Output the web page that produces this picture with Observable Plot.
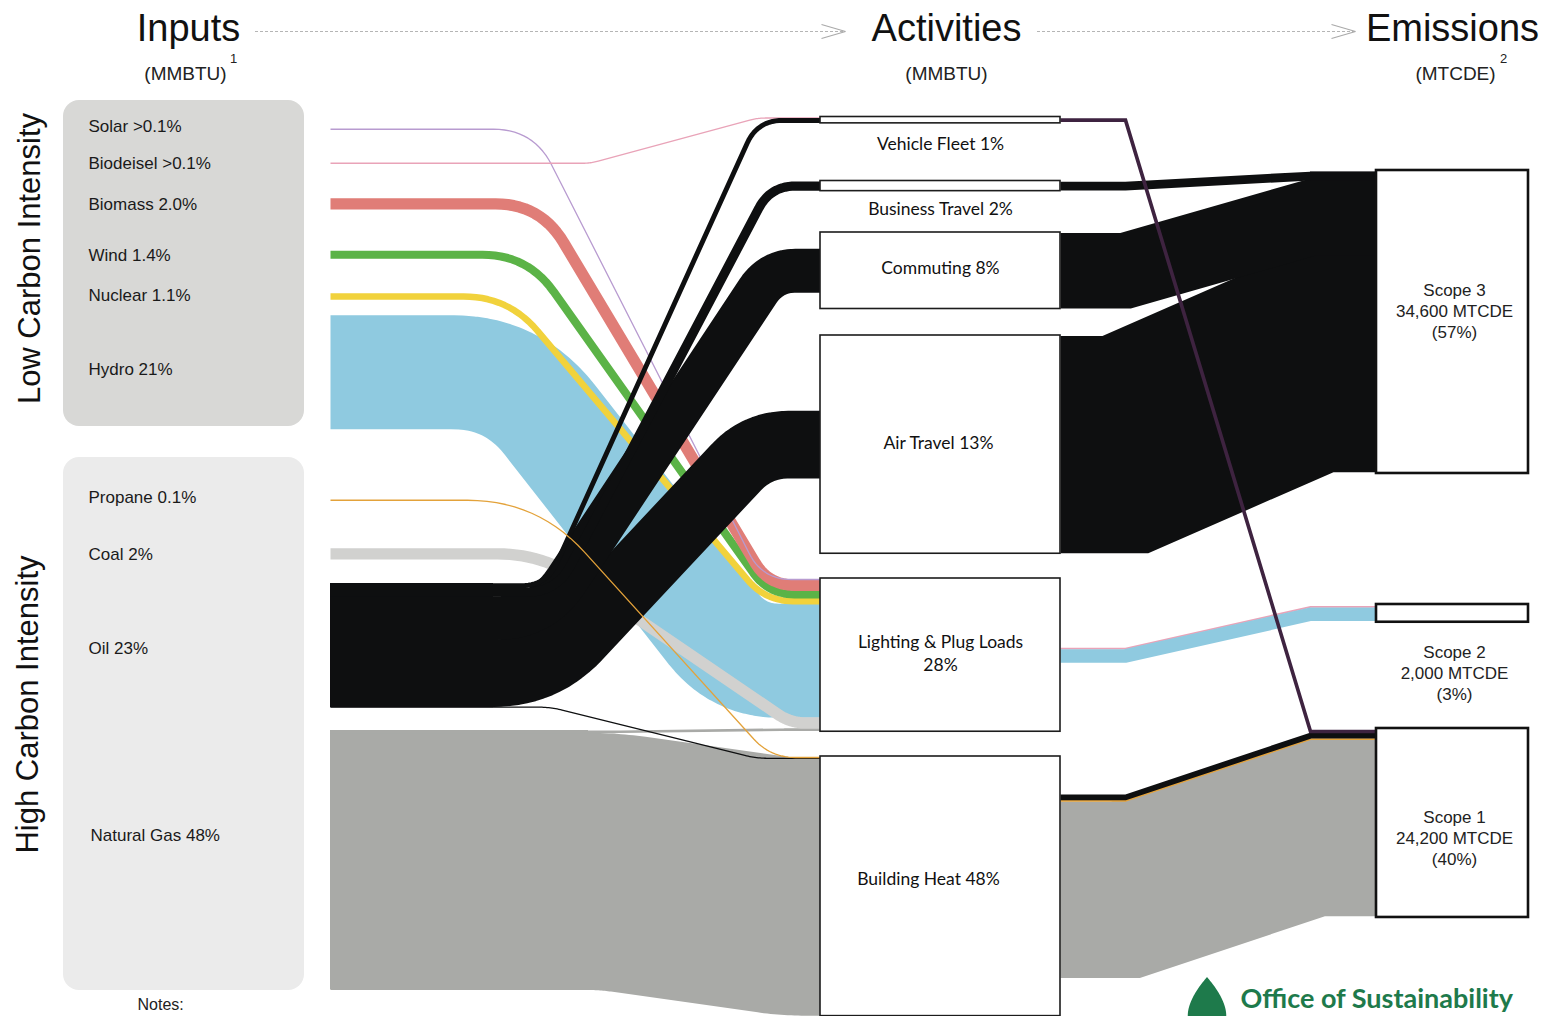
<!DOCTYPE html>
<html>
<head>
<meta charset="utf-8">
<script src="https://cdn.jsdelivr.net/npm/d3@7"></script>
<script src="https://cdn.jsdelivr.net/npm/@observablehq/plot@0.6"></script>
<style>
  html, body { margin: 0; padding: 0; background: #fff; }
  #chart svg { display: block; }
</style>
</head>
<body>
<div id="chart"></div>
<script>
// ================= DATA =================
const inputs = ["Solar", "Biodeisel", "Biomass", "Wind", "Nuclear", "Hydro", "Propane", "Coal", "Oil", "Natural Gas"];
const inputShare = [">0.1%", ">0.1%", "2.0%", "1.4%", "1.1%", "21%", "0.1%", "2%", "23%", "48%"];
const groups = ["Low Carbon Intensity", "High Carbon Intensity"];

const activities = ["Vehicle Fleet", "Business Travel", "Commuting", "Air Travel", "Lighting & Plug Loads", "Building Heat"];
const activityShare = ["1%", "2%", "8%", "13%", "28%", "48%"];

const scopes = ["Scope 3", "Scope 2", "Scope 1"];
const scopeMTCDE = [34600, 2000, 24200];
const scopePct = [57, 3, 40];

// energy flows, share of total MMBTU (%)
const energyFrom  = ["Solar", "Biodeisel", "Biomass", "Wind", "Nuclear", "Hydro", "Propane", "Coal", "Oil", "Oil", "Oil", "Oil", "Oil", "Natural Gas", "Natural Gas"];
const energyTo    = ["Lighting & Plug Loads", "Vehicle Fleet", "Lighting & Plug Loads", "Lighting & Plug Loads", "Lighting & Plug Loads", "Lighting & Plug Loads", "Building Heat", "Lighting & Plug Loads",
                     "Vehicle Fleet", "Business Travel", "Commuting", "Air Travel", "Building Heat", "Lighting & Plug Loads", "Building Heat"];
const energyShare = [0.1, 0.1, 2.0, 1.4, 1.1, 21, 0.1, 2.0, 0.8, 1.6, 8.0, 12.4, 0.2, 0.5, 47.5];

// emission flows, thousand MTCDE
const emisFrom = ["Vehicle Fleet", "Business Travel", "Commuting", "Air Travel", "Lighting & Plug Loads", "Lighting & Plug Loads", "Building Heat", "Building Heat", "Building Heat"];
const emisTo   = ["Scope 1", "Scope 3", "Scope 3", "Scope 3", "Scope 2", "Scope 2", "Scope 1", "Scope 1", "Scope 1"];
const emisFuel = ["Oil & Biodeisel", "Oil", "Oil", "Oil", "Biodeisel", "Hydro", "Oil", "Propane", "Natural Gas"];
const emisKt   = [0.35, 0.95, 8.65, 25.0, 0.2, 1.5, 0.6, 0.2, 20.3];

// ================= LAYOUT & STYLE =================
const W = 1544, H = 1016;
const PX_PCT = 5.4;   // px per % of MMBTU
const PX_KT = 8.67;   // px per thousand MTCDE
const X_IN = 330, X_A0 = 820, X_A1 = 1060, X_MB0 = 1125, X_MB1 = 1310, X_S0 = 1376, X_S1 = 1528;

const inputTop    = [128.5, 162.5, 198, 250.5, 293, 315, 499.5, 548, 583, 730];
const inputLabelY = [126, 163, 204, 255, 295, 369, 497, 554, 648, 835];
const groupPanel  = [[100, 426], [457, 990]];
const groupLabel  = [[30, 258], [28, 704]];
const activityTop = [116.5, 180.5, 232, 335, 578, 756];
const actLabelShift = [[0, 0], [0, -2], [0, -1], [-2, 0], [0, 0], [-12, -6]];
const scopeTop    = [170, 604, 728];
const scopeLabelY = [310, 672, 837];
// [x where link leaves source level, x where it reaches target level, corner radius]
const energyBend = [[533, 762, 40], [590, 757, 8], [540, 768, 45], [527, 768, 45], [508, 765, 45], [512, 738, 60], [537, 770, 70], [542, 790, 45],
                    [546, 757, 25], [556, 770, 30], [541, 771, 45], [543, 757, 50], [550, 756, 12], [610, 790, 10], [608, 790, 20]];
const energyDrawOrder = [14, 13, 5, 7, 4, 3, 2, 0, 1, 11, 10, 9, 8, 12, 6];
const emisDrawOrder = [8, 7, 6, 3, 2, 1, 4, 5, 0];

const color = {
  "Solar": "#b89bd0", "Biodeisel": "#e9a3b8", "Biomass": "#e07d77", "Wind": "#5bb347", "Nuclear": "#f1d23c",
  "Hydro": "#8fcae0", "Propane": "#e3a23a", "Coal": "#d1d1cf", "Oil": "#0e0f10", "Natural Gas": "#a9aaa7",
  "Oil & Biodeisel": "#3e2340"
};
const panelFill = ["#d8d8d6", "#ebebeb"];

// ================= COMPUTE SANKEY GEOMETRY =================
const E = energyFrom.map((f, i) => ({i, from: f, to: energyTo[i], w: energyShare[i] * PX_PCT}));
const M = emisFrom.map((f, i) => ({i, from: f, to: emisTo[i], fuel: emisFuel[i], w: emisKt[i] * PX_KT}));

const srcOff = new Map(inputs.map((n, k) => [n, inputTop[k]]));
E.forEach(l => { const y0 = srcOff.get(l.from); l.cs = y0 + l.w / 2; srcOff.set(l.from, y0 + l.w); });

// solid trunks behind inputs that split into several links (hides seams)
const trunks = inputs.map((n, k) => {
  const ls = E.filter(l => l.from === n);
  if (ls.length < 2) return null;
  return {fill: color[n], y1: inputTop[k], y2: inputTop[k] + d3.sum(ls, l => l.w),
          x2: d3.min(ls, l => energyBend[l.i][0] - energyBend[l.i][2])};
}).filter(d => d);

const act = activities.map((a, k) => {
  const ins = E.filter(l => l.to === a), outs = M.filter(l => l.from === a);
  const inW = d3.sum(ins, l => l.w), outW = d3.sum(outs, l => l.w);
  const h = Math.max(inW, outW) + 1.5;
  const y1 = activityTop[k], y2 = y1 + h;
  let y = y1 + (h - inW) / 2;
  ins.forEach(l => { l.ct = y + l.w / 2; y += l.w; });
  y = y1 + (h - outW) / 2;
  outs.forEach(l => { l.c0 = y + l.w / 2; y += l.w; });
  return {name: a, share: activityShare[k], y1, y2, h, k};
});

const scTrunks = [];
const sc = scopes.map((s, k) => {
  const ins = M.filter(l => l.to === s);
  let y = scopeTop[k] + 1.5;
  const y0 = y;
  ins.forEach(l => { l.c1 = y + l.w / 2; y += l.w; });
  if (ins.length > 1 && new Set(ins.map(l => l.fuel)).size === 1) scTrunks.push({y1: y0, y2: y, fill: color[ins[0].fuel]});
  return {name: s, y1: scopeTop[k], y2: y + 1.5, label: `${s}\n${d3.format(",")(scopeMTCDE[k])} MTCDE\n(${scopePct[k]}%)`, ly: scopeLabelY[k]};
});

function rounded(pts, r, n = 14) {
  const out = [pts[0]];
  for (let i = 1; i < pts.length - 1; i++) {
    const p0 = pts[i - 1], p1 = pts[i], p2 = pts[i + 1];
    const l1 = Math.hypot(p1[0] - p0[0], p1[1] - p0[1]), l2 = Math.hypot(p2[0] - p1[0], p2[1] - p1[1]);
    if (l1 < 1e-6 || l2 < 1e-6 || r <= 0) { out.push(p1); continue; }
    const d = Math.min(r, l1 / 2, l2 / 2);
    const a = [p1[0] - (p1[0] - p0[0]) / l1 * d, p1[1] - (p1[1] - p0[1]) / l1 * d];
    const b = [p1[0] + (p2[0] - p1[0]) / l2 * d, p1[1] + (p2[1] - p1[1]) / l2 * d];
    for (let k = 0; k <= n; k++) {
      const t = k / n, u = 1 - t;
      out.push([u * u * a[0] + 2 * u * t * p1[0] + t * t * b[0], u * u * a[1] + 2 * u * t * p1[1] + t * t * b[1]]);
    }
  }
  out.push(pts[pts.length - 1]);
  return out.map(([x, y]) => ({x, y}));
}
const drawWidth = (w, min) => w > 3 ? w + 0.6 : Math.max(w, min);

const energyMarks = energyDrawOrder.map(i => {
  const l = E[i], [xb, xe, r] = energyBend[i];
  const pts = rounded([[X_IN, l.cs], [xb, l.cs], [xe, l.ct], [X_A0, l.ct]], r);
  return Plot.line(pts, {x: "x", y: "y", curve: "linear", stroke: color[l.from], strokeWidth: drawWidth(l.w, 1.3),
    strokeLinecap: "butt", strokeLinejoin: "round"});
});

const emisMarks = emisDrawOrder.map(i => {
  const l = M[i];
  const pts = [[X_A1, l.c0], [X_MB0, l.c0], [X_MB1, l.c1], [X_S0, l.c1]].map(([x, y]) => ({x, y}));
  return Plot.line(pts, {x: "x", y: "y", curve: "linear", stroke: color[l.fuel], strokeWidth: drawWidth(l.w, 1.5),
    strokeLinecap: "butt", strokeLinejoin: "miter", strokeMiterlimit: 20});
});

// header arrows
const headers = [
  {name: "Inputs", unit: "(MMBTU)", sup: "1", x: 188, ux: 185},
  {name: "Activities", unit: "(MMBTU)", sup: "", x: 946, ux: 946},
  {name: "Emissions", unit: "(MTCDE)", sup: "2", x: 1452, ux: 1455}
];
const arrows = [{x1: 255, x2: 845, y: 31}, {x1: 1037, x2: 1355, y: 31}];
const chevrons = arrows.flatMap((a, k) => [{k, x: a.x2 - 24, y: a.y - 7}, {k, x: a.x2, y: a.y}, {k, x: a.x2 - 24, y: a.y + 7}]);

// logo drop
const logo = {cx: 1207, top: 977, h: 58, w: 25};
const drop = d3.range(0, 61).map(i => {
  const t = i / 60 * Math.PI;
  const half = logo.w * Math.sin(t) * Math.sin(t / 2);
  return {y: logo.top + logo.h * (1 - Math.cos(t)) / 2, x1: logo.cx - half, x2: logo.cx + half};
});

const panels = groups.map((g, k) => ({g, y1: groupPanel[k][0], y2: groupPanel[k][1], fill: panelFill[k], lx: groupLabel[k][0], ly: groupLabel[k][1]}));
const inputLabels = inputs.map((n, k) => ({text: `${n} ${inputShare[k]}`, y: inputLabelY[k], x: n === "Natural Gas" ? 90 : 88}));
const actLabels = act.map(a => ({
  text: a.name === "Lighting & Plug Loads" ? `Lighting & Plug Loads\n${a.share}` : `${a.name} ${a.share}`,
  x: (X_A0 + X_A1) / 2 + actLabelShift[a.k][0],
  y: (a.h < 20 ? a.y2 + 19 : (a.y1 + a.y2) / 2 - 3) + actLabelShift[a.k][1]
}));

const chart = Plot.plot({
  width: W, height: H, margin: 0,
  x: {domain: [0, W], range: [0, W], axis: null},
  y: {domain: [0, H], range: [0, H], axis: null},
  style: {fontFamily: "'Liberation Sans', Arial, sans-serif", background: "#fff", color: "#111"},
  marks: [
    // group panels
    Plot.rect(panels, {x1: 63, x2: 304, y1: "y1", y2: "y2", rx: 16, fill: "fill"}),
    Plot.text(panels, {x: "lx", y: "ly", text: "g", rotate: -90, fontSize: 31, fill: "#111", lineAnchor: "middle", textAnchor: "middle"}),
    Plot.text(inputLabels, {x: "x", y: "y", text: "text", fontSize: 17, fill: "#1a1a1a", textAnchor: "start", lineAnchor: "middle"}),
    // flows
    Plot.rect(trunks, {x1: X_IN, x2: "x2", y1: "y1", y2: "y2", fill: "fill"}),
    Plot.rect(scTrunks, {x1: X_MB1, x2: X_S0, y1: "y1", y2: "y2", fill: "fill"}),
    ...energyMarks,
    ...emisMarks,
    // activity boxes
    Plot.rect(act, {x1: X_A0, x2: X_A1, y1: "y1", y2: "y2", fill: "#fff", stroke: "#1c1c1c", strokeWidth: 1.6}),
    Plot.text(actLabels, {x: "x", y: "y", text: "text", fontFamily: "Lato, sans-serif", fontSize: 17.5, fill: "#111", lineAnchor: "middle", lineHeight: 1.3}),
    // scope boxes
    Plot.rect(sc, {x1: X_S0, x2: X_S1, y1: "y1", y2: "y2", fill: "#fff", stroke: "#111", strokeWidth: 2.6}),
    Plot.text(sc, {x: (X_S0 + X_S1) / 2 + 2, y: "ly", text: "label", fontSize: 17, fill: "#222", lineAnchor: "middle", lineHeight: 1.22}),
    // headers
    Plot.ruleY(arrows, {y: "y", x1: "x1", x2: "x2", stroke: "#b5b5b5", strokeWidth: 1, strokeDasharray: "3,2"}),
    Plot.line(chevrons, {x: "x", y: "y", z: "k", stroke: "#aaa", strokeWidth: 1.3, strokeLinejoin: "miter", strokeLinecap: "butt"}),
    Plot.text(headers, {x: "x", y: 28, text: "name", fontSize: 38, fill: "#111", lineAnchor: "middle"}),
    Plot.text(headers, {x: "ux", y: 73, text: "unit", fontSize: 19, fill: "#222", lineAnchor: "middle"}),
    Plot.text(headers, {x: d => d.ux + 48, y: 58, text: "sup", fontSize: 13, fill: "#222", lineAnchor: "middle"}),
    // notes & logo
    Plot.text(["Notes:"], {x: 137, y: 1004, text: d => d, fontSize: 16, fill: "#222", textAnchor: "start", lineAnchor: "middle"}),
    Plot.areaX(drop, {y: "y", x1: "x1", x2: "x2", fill: "#1e7a4b", curve: "linear"}),
    Plot.text(["Office of Sustainability"], {x: 1240, y: 999, text: d => d, fontFamily: "Lato, sans-serif", fontWeight: 700, fontSize: 27, fill: "#1e7a4b", textAnchor: "start", lineAnchor: "middle"})
  ]
});
document.getElementById("chart").appendChild(chart);
</script>
</body>
</html>
